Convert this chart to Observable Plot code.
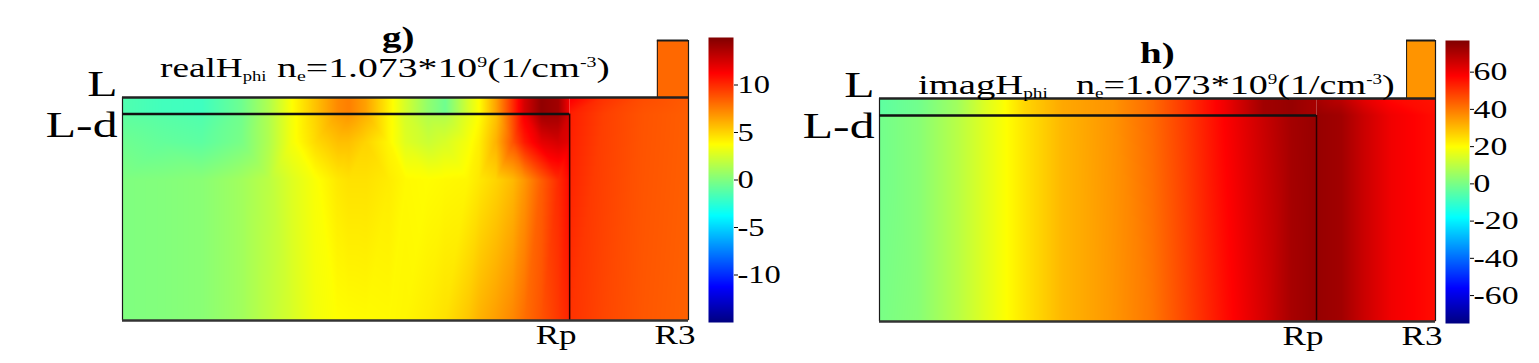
<!DOCTYPE html>
<html><head><meta charset="utf-8">
<script src="https://cdn.jsdelivr.net/npm/d3@7"></script>
<script src="https://cdn.jsdelivr.net/npm/@observablehq/plot@0.6"></script>
<style>
body{margin:0;background:#fff;}
#root{position:relative;width:1539px;height:363px;overflow:hidden;font-family:"Liberation Serif","Times New Roman",serif;color:#000;}
#root > svg{position:absolute;top:0;}
#root svg text{font-family:"Liberation Serif","Times New Roman",serif;}
.lbl{position:absolute;white-space:nowrap;line-height:1;transform-origin:0 0;}
.lbl sub{font-size:50%;vertical-align:-0.25em;}
.lbl sup{font-size:50%;vertical-align:0.75em;}
</style></head><body><div id="root"></div>
<script>
// ---------- colour map (jet) ----------
const jetColors = ["#000080", "#0000ff", "#00ffff", "#ffff00", "#ff0000", "#800000"];
const gColorDomain = [-15, -11.25, -3.75, 3.75, 11.25, 15];
const hColorDomain = [-75, -56, -18, 20, 58, 77];
const gColorTicks = [-10, -5, 0, 5, 10];
const hColorTicks = [-60, -40, -20, 0, 20, 40, 60];

// ---------- geometry (r: 0..R3, z: 0..L) ----------
const gGeom = {R3: 100, Rp: 79, tabR: 94.5, L: 100, Ld: 92.6, tabTop: 125.6};
const hGeom = {R3: 100, Rp: 78.6, tabR: 94.8, L: 100, Ld: 92.4, tabTop: 126};
const xTickLabels = ["Rp", "R3"];
const yTickLabels = ["L-d", "L"];

// ---------- panel g : real H_phi ----------
const gCols = [0, 7, 14, 21, 26, 30, 34, 38, 40, 43, 47, 50, 54, 57, 61, 63, 66, 69, 71, 74, 77, 79];
const gRowZ = [0, 63, 80, 92.6];
const gRow0  = [0, 0.1, 0.3, 1.0, 1.9, 2.6, 3.4, 3.75, 3.8, 3.85, 3.9, 4.0, 4.3, 4.6, 5.4, 6.0, 6.6, 7.3, 8.0, 8.8, 9.6, 10.2];
const gRow63 = [0, 0.1, 0.3, 1.0, 1.8, 2.8, 3.6, 4.4, 4.6, 4.6, 4.3, 3.9, 3.8, 3.9, 4.0, 4.4, 5.0, 5.8, 6.8, 8.5, 10, 11];
const gRow80 = [-0.5, -0.8, -1.0, -0.2, 1.5, 3.5, 4.8, 5.6, 5.6, 5.0, 4.0, 2.8, 2.2, 2.6, 3.5, 4.2, 6.0, 8.8, 10.5, 12, 12.5, 12];
const gRow92 = [-1.0, -1.2, -1.4, -0.4, 1.5, 3.5, 5.0, 6.5, 6.8, 6.0, 4.0, 2.5, 1.5, 1.5, 3.0, 3.75, 5.5, 9.0, 11.5, 14, 14, 12.5];
const gBand  = [-1.4, -1.8, -1.9, -0.5, 1.5, 3.75, 5.5, 7.2, 7.5, 6.5, 4.2, 2.5, 0.5, -0.5, 2.5, 3.75, 6.5, 10, 12.5, 14.5, 14, 11.5];
const gRightCols = [79, 85, 92, 100];
const gRightZ = [0, 92.6, 100];
const gRight0   = [9.8, 9.2, 8.7, 8.4];
const gRight92  = [10.4, 9.4, 8.8, 8.5];
const gRight100 = [11.5, 9.8, 9.0, 8.6];
const gTab = [8.2];

// ---------- panel h : imag H_phi ----------
const hCols = [0, 7, 14, 19, 22, 26, 33, 42, 49, 55, 62, 69, 74, 78.6];
const hRowZ = [0, 92.4];
const hRow0  = [0, 2.3, 9.5, 15.5, 19, 23.6, 30.8, 35.6, 40.3, 47.5, 56, 64, 71, 73.6];
const hRow92 = [-1, 2.3, 9.5, 15.5, 19, 23.6, 30.8, 36, 42, 49, 58, 66, 71.5, 73.6];
const hBand  = [-4, -1, 6, 15, 19, 26, 33, 36, 42, 50, 60, 72, 73.6, 71];
const hRightCols = [78.6, 83, 87, 92, 100];
const hRightZ = [0, 92.4, 100];
const hRight0   = [73.6, 72, 66, 60, 56];
const hRight92  = [73.6, 72, 66, 60, 56];
const hRight100 = [71, 68, 62, 57, 55];
const hTab = [36];

// ---------- helpers ----------
function grid(cols, zs, rows) {
  const out = [];
  rows.forEach((row, i) => row.forEach((v, j) => out.push({r: cols[j], z: zs[i], v})));
  return out;
}
const FONT = "'Liberation Serif', 'Times New Roman', serif";
const STRETCH = 1.3;
function stretch(svg, sx) {
  svg.querySelectorAll("text").forEach(t => {
    const tr = t.getAttribute("transform") || "";
    const s = t.closest("[data-sx]") ? +t.closest("[data-sx]").getAttribute("data-sx") : sx;
    t.setAttribute("transform", tr + ` scale(${s},1)`);
  });
}

function panel(o) {
  const G = o.geom;
  const colorOpt = {type: "linear", domain: o.colorDomain, range: jetColors, interpolate: "rgb", clamp: true};
  const mainData = grid(o.cols, o.rowZ, o.rows);
  const bandData = grid(o.cols, [G.Ld, G.L], [o.band, o.band]);
  const rightData = grid(o.rightCols, o.rightZ, o.rightRows);
  const xLabel = new Map([[G.Rp, xTickLabels[0]], [G.R3, xTickLabels[1]]]);
  const ink = "#1a1a1a";
  const svg = Plot.plot({
    width: o.width, height: 363,
    marginLeft: o.ml, marginRight: o.mr, marginTop: o.mt, marginBottom: o.mb,
    x: {domain: [0, G.R3], axis: null},
    y: {domain: [0, G.tabTop], axis: null},
    color: colorOpt,
    style: {background: "transparent", overflow: "visible", fontFamily: FONT},
    marks: [
      Plot.raster(mainData, {x: "r", y: "z", fill: "v", x1: 0, x2: G.Rp, y1: 0, y2: G.Ld, interpolate: "barycentric", pixelSize: 1}),
      Plot.raster(bandData, {x: "r", y: "z", fill: "v", x1: 0, x2: G.Rp, y1: G.Ld, y2: G.L, interpolate: "barycentric", pixelSize: 1}),
      Plot.raster(rightData, {x: "r", y: "z", fill: "v", x1: G.Rp, x2: G.R3, y1: 0, y2: G.L, interpolate: "barycentric", pixelSize: 1}),
      Plot.rect(o.tab, {x1: G.tabR, x2: G.R3, y1: G.L, y2: G.tabTop, fill: d => d}),
      // outlines
      Plot.ruleX([0], {y1: 0, y2: G.L, stroke: ink, strokeWidth: 1.2}),
      Plot.ruleX([G.R3], {y1: 0, y2: G.tabTop, stroke: ink, strokeWidth: 1.2}),
      Plot.ruleX([G.tabR], {y1: G.L, y2: G.tabTop, stroke: ink, strokeWidth: 1}),
      Plot.ruleY([G.tabTop], {x1: G.tabR, x2: G.R3, stroke: ink, strokeWidth: 2}),
      Plot.ruleX([G.Rp], {y1: 0, y2: G.Ld, stroke: "#2a0000", strokeWidth: 1.5}),
      Plot.ruleY([G.Ld], {x1: 0, x2: G.Rp, stroke: "#111", strokeWidth: 2.6}),
      Plot.ruleY([G.L], {x1: 0, x2: G.R3, stroke: "#222", strokeWidth: 2.4}),
      Plot.ruleY([0], {x1: 0, x2: G.R3, stroke: "#333", strokeWidth: 2.6}),
      // axis labels
      Plot.axisX([G.Rp, G.R3], {anchor: "bottom", label: null, tickSize: 0, tickPadding: 4, fontSize: 27, fontFamily: FONT, textAnchor: "end", dx: 7, tickFormat: d => xLabel.get(d), fill: "#000"}),
      Plot.axisY([G.L], {anchor: "left", label: null, tickSize: 0, tickPadding: 5, fontSize: 36, fontFamily: FONT, dy: -13.5, tickFormat: () => yTickLabels[1], fill: "#000", ariaLabel: "ylabel-L"}),
      Plot.axisY([G.Ld], {anchor: "left", label: null, tickSize: 0, tickPadding: 5, fontSize: 36, fontFamily: FONT, dy: 11, tickFormat: () => yTickLabels[0], fill: "#000", ariaLabel: "ylabel-Ld"})
    ]
  });
  svg.querySelectorAll("[aria-label^='ylabel']").forEach(g => g.setAttribute("data-sx", "1.38"));
  stretch(svg, STRETCH);
  svg.style.left = o.left + "px";
  return svg;
}

function colorbar(o) {
  const [lo, hi] = [o.colorDomain[0], o.colorDomain[o.colorDomain.length - 1]];
  const svg = Plot.plot({
    width: o.width, height: 363,
    marginLeft: o.ml, marginRight: o.mr, marginTop: o.mt, marginBottom: o.mb,
    x: {domain: [0, 1], axis: null},
    y: {domain: [lo, hi], axis: null},
    color: {type: "linear", domain: o.colorDomain, range: jetColors, interpolate: "rgb", clamp: true},
    style: {background: "transparent", overflow: "visible", fontFamily: FONT},
    marks: [
      Plot.raster({x1: 0, x2: 1, y1: lo, y2: hi, fill: (x, y) => y, pixelSize: 1}),
      Plot.axisY(o.ticks, {anchor: "right", label: null, tickSize: 4, tickPadding: 0, fontSize: o.fontSize, fontFamily: FONT, tickFormat: d => String(d), fill: "#000", stroke: "#000"})
    ]
  });
  stretch(svg, STRETCH);
  svg.style.left = o.left + "px";
  return svg;
}

const root = document.getElementById("root");
root.append(panel({
  geom: gGeom, colorDomain: gColorDomain, cols: gCols, rowZ: gRowZ, rows: [gRow0, gRow63, gRow80, gRow92],
  band: gBand, rightCols: gRightCols, rightZ: gRightZ, rightRows: [gRight0, gRight92, gRight100], tab: gTab,
  left: 0, width: 770, ml: 122, mr: 82, mt: 40, mb: 43
}));
root.append(colorbar({colorDomain: gColorDomain, ticks: gColorTicks, fontSize: 25, left: 690, width: 80, ml: 18, mr: 37, mt: 37, mb: 41}));
root.append(panel({
  geom: hGeom, colorDomain: hColorDomain, cols: hCols, rowZ: hRowZ, rows: [hRow0, hRow92],
  band: hBand, rightCols: hRightCols, rightZ: hRightZ, rightRows: [hRight0, hRight92, hRight100], tab: hTab,
  left: 770, width: 769, ml: 109, mr: 104, mt: 40, mb: 42
}));
root.append(colorbar({colorDomain: hColorDomain, ticks: hColorTicks, fontSize: 26, left: 1430, width: 109, ml: 15, mr: 70, mt: 40, mb: 40}));

// ---------- titles & annotations ----------
function label(html, left, baseline, size, bold, sx) {
  const d = document.createElement("div");
  d.className = "lbl";
  d.innerHTML = html;
  d.style.left = left + "px";
  d.style.top = (baseline - 0.8375 * size) + "px";
  d.style.fontSize = size + "px";
  if (bold) d.style.fontWeight = "bold";
  d.style.transform = `scaleX(${sx || STRETCH})`;
  root.append(d);
}
const neText = "n<sub>e</sub>=1.073*10<sup>9</sup>(1/cm<sup>-3</sup>)";
label("g)", 382, 47, 30, true);
label("realH<sub>phi</sub>", 160, 77, 28, false, 1.33);
label(neText, 277, 77, 28, false, 1.42);
label("h)", 1140, 63, 30, true);
label("imagH<sub>phi</sub>", 918, 94, 28, false, 1.38);
label(neText, 1076, 94, 28, false, 1.36);
</script></body></html>
